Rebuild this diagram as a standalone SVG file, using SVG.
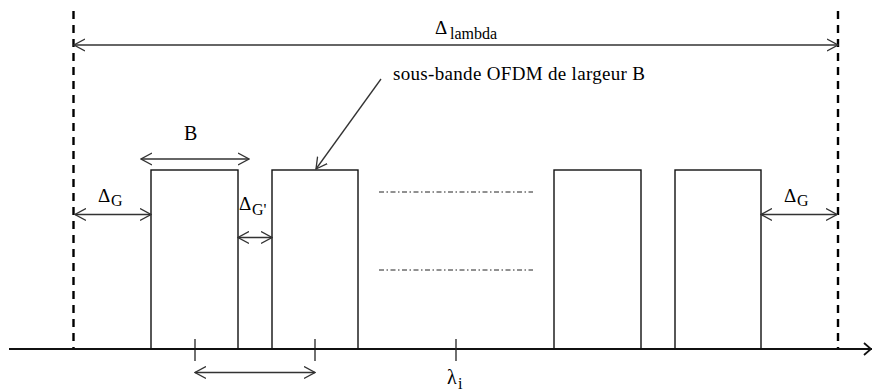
<svg xmlns="http://www.w3.org/2000/svg" width="872" height="392" viewBox="0 0 872 392">
<style>
.box{fill:none;stroke:#111;stroke-width:1.4}
.dim{fill:none;stroke:#333;stroke-width:1.3}
.bound{fill:none;stroke:#000;stroke-width:2.4;stroke-dasharray:8,6}
.dd{fill:none;stroke:#222;stroke-width:1;stroke-dasharray:5,2.5,1.5,2.5}
.axis{fill:none;stroke:#111;stroke-width:2.2}
.tick{fill:none;stroke:#222;stroke-width:1.3}
.lbl{font-family:"Liberation Serif","Times New Roman",Times,Tinos,"Noto Serif","DejaVu Serif",serif;fill:#000}
.m{font-size:19px}
.s{font-size:16px}
</style>
<defs>
<marker id="ah" viewBox="0 0 12 14" refX="11" refY="7" markerWidth="12" markerHeight="14" markerUnits="userSpaceOnUse" orient="auto-start-reverse">
<path d="M0,1 L11,7 L0,13" fill="none" stroke="#333" stroke-width="1.3"/>
</marker>
</defs>
<rect width="872" height="392" fill="#fff"/>
<g id="bounds">
<line class="bound" x1="73.5" y1="11" x2="73.5" y2="349"/>
<line class="bound" x1="838" y1="11" x2="838" y2="349"/>
</g>
<g id="axis">
<line class="axis" x1="9" y1="349" x2="872" y2="349"/>
<path d="M864,343 L871,349 L864,355" fill="none" stroke="#111" stroke-width="1.8"/>
<line class="tick" x1="195" y1="339" x2="195" y2="361"/>
<line class="tick" x1="315" y1="339" x2="315" y2="361"/>
<line class="tick" x1="456" y1="339" x2="456" y2="361"/>
</g>
<g id="band1"><rect class="box" x="151" y="170" width="87" height="179"/></g>
<g id="band2"><rect class="box" x="272" y="170" width="86" height="179"/></g>
<g id="band3"><rect class="box" x="554" y="170" width="87" height="179"/></g>
<g id="band4"><rect class="box" x="675" y="170" width="86" height="179"/></g>
<g id="ellipsis">
<line class="dd" x1="379" y1="192" x2="533" y2="192"/>
<line class="dd" x1="379" y1="270" x2="533" y2="270"/>
</g>
<g id="connectors">
<line class="dim" x1="74" y1="45" x2="838" y2="45" marker-start="url(#ah)" marker-end="url(#ah)"/>
<line class="dim" x1="141" y1="159" x2="249" y2="159" marker-start="url(#ah)" marker-end="url(#ah)"/>
<line class="dim" x1="75" y1="214.5" x2="151" y2="214.5" marker-start="url(#ah)" marker-end="url(#ah)"/>
<line class="dim" x1="238" y1="237.5" x2="272" y2="237.5" marker-start="url(#ah)" marker-end="url(#ah)"/>
<line class="dim" x1="761" y1="214.5" x2="837" y2="214.5" marker-start="url(#ah)" marker-end="url(#ah)"/>
<line class="dim" x1="195" y1="372.5" x2="315" y2="372.5" marker-start="url(#ah)" marker-end="url(#ah)"/>
<line class="dim" x1="381" y1="79" x2="316" y2="169" marker-end="url(#ah)"/>
</g>
<g id="labels">
<text class="lbl m" x="435" y="34">Δ</text><text class="lbl s" x="450" y="39">lambda</text>
<text class="lbl m" x="393" y="80" textLength="252" lengthAdjust="spacing">sous-bande OFDM de largeur B</text>
<text class="lbl m" x="184" y="140" style="font-size:20px">B</text>
<text class="lbl m" x="98" y="202">Δ</text><text class="lbl s" x="111" y="206">G</text>
<text class="lbl m" x="239" y="210">Δ</text><text class="lbl s" x="252" y="215">G'</text>
<text class="lbl m" x="784" y="202">Δ</text><text class="lbl s" x="797" y="206">G</text>
<text class="lbl m" x="447" y="384" style="font-size:20px">λ</text><text class="lbl s" x="458" y="389">i</text>
</g>
</svg>
